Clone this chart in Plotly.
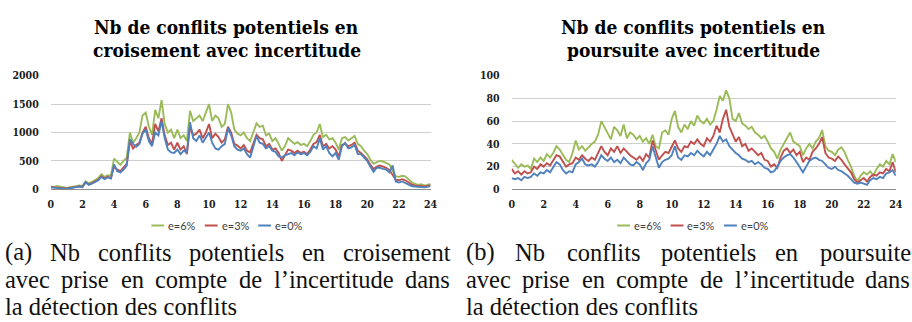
import plotly.graph_objects as go

# Sampling grid: one reading every 12 minutes over the day
hours = [round(i * 0.2, 1) for i in range(121)]

# Crossing conflicts (croisement), count per sample
cross_e6 = [
    50, 45, 60, 50, 30, 25, 40, 45, 55, 70,
    60, 140, 110, 130, 160, 200, 270, 220, 250, 240,
    540, 480, 430, 500, 560, 1000, 820, 900, 1000, 1300,
    1350, 1100, 960, 1400, 1250, 1570, 1150, 1000, 1050, 900,
    1050, 900, 950, 850, 1380, 1200, 1250, 1300, 1200, 1350,
    1500, 1200, 1300, 1250, 1100, 1150, 1500, 1350, 1050, 980,
    950, 1000, 900, 850, 1000, 1160, 1100, 1120, 950, 980,
    850, 900, 800, 680, 760, 900, 850, 800, 830, 780,
    800, 760, 850, 960, 1000, 1150, 920, 960, 880, 900,
    820, 700, 900, 920, 860, 900, 940, 800, 760, 680,
    620, 520, 450, 480, 500, 490, 470, 440, 330, 230,
    220, 240, 230, 180, 130, 100, 80, 90, 70, 80,
    95,
]
cross_e3 = [
    40, 35, 40, 35, 20, 15, 25, 30, 45, 55,
    45, 120, 90, 110, 140, 170, 230, 190, 220, 200,
    400, 350, 320, 380, 450, 850, 720, 780, 820, 1000,
    1100, 900, 800, 1150, 1020, 1250, 950, 780, 820, 700,
    820, 700, 760, 620, 1100, 950, 980, 1050, 900, 1000,
    1150, 900, 980, 920, 820, 880, 1100, 1000, 800, 770,
    720, 780, 680, 650, 800, 960, 900, 880, 760, 800,
    700, 720, 640, 500, 600, 700, 680, 640, 680, 640,
    660, 620, 700, 800, 830, 960, 760, 800, 720, 760,
    700, 580, 780, 800, 760, 780, 820, 680, 640, 580,
    530, 430, 360, 400, 420, 400, 380, 340, 260, 170,
    160, 180, 160, 120, 90, 70, 55, 65, 50, 60,
    75,
]
cross_e0 = [
    35, 30, 30, 25, 15, 10, 20, 25, 40, 50,
    40, 130, 80, 100, 130, 160, 220, 180, 210, 190,
    440, 320, 300, 350, 420, 880, 800, 750, 800, 980,
    1050, 850, 760, 1000, 950, 1200, 900, 700, 650, 640,
    700, 620, 680, 650, 1180, 900, 850, 950, 820, 900,
    1000, 820, 720, 700, 760, 800, 1080, 950, 760, 700,
    680, 720, 620, 560, 740, 940, 820, 800, 720, 760,
    680, 660, 580, 560, 600, 620, 640, 600, 650, 620,
    640, 600, 660, 760, 720, 900, 700, 760, 640, 580,
    640, 520, 760, 820, 720, 740, 780, 620, 620, 560,
    500, 400, 310, 380, 380, 360, 350, 300, 420, 140,
    120, 140, 110, 80, 60, 50, 45, 50, 35, 45,
    60,
]

# Pursuit conflicts (poursuite), count per sample
pursuit_e6 = [
    26, 22, 19, 22, 20, 21, 18, 27, 24, 28,
    25, 31, 28, 32, 38, 35, 30, 26, 24, 32,
    43, 35, 38, 34, 37, 40, 42, 48, 60, 55,
    50, 44, 55, 52, 47, 57, 45, 50, 48, 44,
    47, 42, 45, 40, 48, 38, 36, 50, 52, 48,
    62, 69, 55, 50, 57, 53, 60, 56, 65, 60,
    58, 62, 57, 60, 70, 82, 78, 87, 80, 62,
    60, 67, 58, 56, 53, 55, 50, 48, 45, 47,
    42, 36, 33, 27, 35, 40, 45, 50, 42, 40,
    38, 30, 36, 40, 36, 42, 45, 52, 38, 34,
    33, 30, 35, 37, 33, 26, 20, 12, 7, 12,
    15, 13, 16, 12, 18, 22, 20, 25, 22, 31,
    24,
]
pursuit_e3 = [
    18, 14, 16, 13, 16, 14, 15, 20, 18, 22,
    20, 23, 21, 26, 30, 29, 24, 20, 22, 23,
    28, 26, 30, 27, 25, 28, 26, 32, 38, 33,
    30, 36, 33, 38, 32, 36, 33, 30, 28, 26,
    29, 25, 31, 28, 43, 35, 26, 30, 33, 32,
    38, 43, 36, 33, 38, 37, 42, 40, 44, 40,
    38, 45, 42, 47, 56, 50, 62, 70, 55, 48,
    42, 46, 38, 40, 34, 36, 33, 30, 32, 26,
    25, 20, 22, 19, 28, 34, 36, 32, 35, 30,
    33, 24, 28, 26, 33, 36, 40, 46, 32, 28,
    27, 25, 29, 26, 22, 18, 15, 9, 6, 8,
    10, 7, 11, 13, 12, 15, 14, 18, 16, 24,
    15,
]
pursuit_e0 = [
    10, 9, 10, 8, 11, 10, 11, 14, 12, 15,
    14, 17, 15, 19, 24, 22, 17, 14, 16, 15,
    22, 24, 27, 22, 21, 22, 20, 24, 30, 27,
    25, 28, 24, 26, 23, 28, 25, 22, 21, 24,
    22, 17, 23, 26, 38, 28, 19, 24, 26, 27,
    30, 38, 28, 26, 30, 29, 32, 30, 34, 31,
    29, 33, 30, 35, 40, 47, 42, 44, 38, 35,
    32, 30, 27, 26, 24, 25, 22, 24, 22, 19,
    18, 15, 16, 20, 25, 28, 30, 31, 28, 24,
    19, 15, 20, 25, 27, 28, 26, 25, 22, 19,
    18, 20, 17, 16, 14, 12, 9, 6, 5, 6,
    5, 4, 8, 10, 9, 11, 10, 14, 15, 17,
    12,
]

series_names = ["e=6%", "e=3%", "e=0%"]
series_colors = ["#9BBB59", "#C0504D", "#4F81BD"]
x_ticks = [0, 2, 4, 6, 8, 10, 12, 14, 16, 18, 20, 22, 24]
cross_ticks = [0, 500, 1000, 1500, 2000]
pursuit_ticks = [0, 20, 40, 60, 80, 100]

chart_titles = [
    ["Nb de conflits potentiels en", "croisement avec incertitude"],
    ["Nb de conflits potentiels en", "poursuite avec incertitude"],
]
caption_first_lines = [
    ["(a)", "Nb", "conflits", "potentiels", "en", "croisement"],
    ["(b)", "Nb", "conflits", "potentiels", "en", "poursuite"],
]
caption_second_line = ["avec", "prise", "en", "compte", "de", "l\u2019incertitude", "dans"]
caption_last_line = "la détection des conflits"

W, H = 912, 322
SERIF = "Liberation Serif"
SERIF_BOLD = "DejaVu Serif Condensed"


def px(x):
    return x / W


def py(y):
    return 1 - y / H


fig = go.Figure()

for name, color, ys in zip(series_names, series_colors, [cross_e6, cross_e3, cross_e0]):
    fig.add_trace(go.Scatter(
        x=hours, y=ys, name=name, mode="lines",
        line=dict(color=color, width=1.9),
        xaxis="x", yaxis="y", showlegend=False,
    ))
for name, color, ys in zip(series_names, series_colors, [pursuit_e6, pursuit_e3, pursuit_e0]):
    fig.add_trace(go.Scatter(
        x=hours, y=ys, name=name, mode="lines",
        line=dict(color=color, width=1.9),
        xaxis="x2", yaxis="y2", showlegend=False,
    ))

tick_font = dict(family=SERIF_BOLD, size=10.5, color="#1a1a1a", weight="bold")
grid_color = "#CFCFCF"
axis_line = "#8C8C8C"

xcommon = dict(
    range=[0, 24], tickmode="array", tickvals=x_ticks,
    showgrid=False, zeroline=False, showline=True, linecolor=axis_line,
    linewidth=1, ticks="", tickfont=tick_font, ticklabelstandoff=5,
    fixedrange=True,
)
ycommon = dict(
    showline=False, zeroline=False, showgrid=True, gridcolor=grid_color,
    gridwidth=1, ticks="", tickfont=tick_font, ticklabelstandoff=11,
    fixedrange=True,
)

y_top, y_bot = 72.3, 190.5

fig.update_layout(
    width=W, height=H,
    margin=dict(l=0, r=0, t=0, b=0),
    paper_bgcolor="white", plot_bgcolor="white",
    xaxis=dict(domain=[px(48.3), px(432.3)], anchor="y", **xcommon),
    yaxis=dict(domain=[py(y_bot), py(y_top)], anchor="x", range=[0, 2000],
               tickvals=cross_ticks, **ycommon),
    xaxis2=dict(domain=[px(514.3), px(902.7)], anchor="y2", **xcommon),
    yaxis2=dict(domain=[py(y_bot), py(y_top)], anchor="x2", range=[0, 100],
                tickvals=pursuit_ticks, **ycommon),
    showlegend=False,
)

annotations = []
shapes = []

# Chart titles, two centred lines each
title_font = dict(family=SERIF_BOLD, size=19, color="black", weight="bold")
for cx, lines in zip([226, 698], chart_titles):
    for ly, text in zip([22, 46], lines):
        annotations.append(dict(
            text=text, x=px(cx), y=py(ly), xref="paper", yref="paper",
            xanchor="center", yanchor="middle", showarrow=False, font=title_font,
        ))

# Compact legend row under each chart: short coloured stroke + label
legend_font = dict(family="Lato", size=11, color="#404040")
legend_y = 228
for start in [150, 621]:
    for k, (name, color) in enumerate(zip(series_names, series_colors)):
        x0 = start + k * 54
        shapes.append(dict(
            type="line", xref="paper", yref="paper",
            x0=px(x0), x1=px(x0 + 13), y0=py(legend_y), y1=py(legend_y),
            line=dict(color=color, width=2),
        ))
        annotations.append(dict(
            text=name, x=px(x0 + 15), y=py(legend_y), xref="paper", yref="paper",
            xanchor="left", yanchor="middle", showarrow=False, font=legend_font,
        ))

# Sub-figure captions; the first two lines are spread over the column width
caption_font = dict(family=SERIF, size=24.5, color="#111111")
first_offsets = [
    [0, 46, 94, 186, 300, 342],
    [0, 50, 102, 197, 313, 358],
]
second_offsets = [0, 57, 117, 152, 237, 272, 404]
line_y = [256, 284, 312]
for base, offs, words in zip([0, 466], first_offsets, caption_first_lines):
    for off, w in zip(offs, words):
        annotations.append(dict(
            text=w, x=px(base + off), y=py(line_y[0]), xref="paper", yref="paper",
            xanchor="left", yanchor="middle", showarrow=False, font=caption_font,
        ))
    for off, w in zip(second_offsets, caption_second_line):
        annotations.append(dict(
            text=w, x=px(base + off), y=py(line_y[1]), xref="paper", yref="paper",
            xanchor="left", yanchor="middle", showarrow=False, font=caption_font,
        ))
    annotations.append(dict(
        text=caption_last_line, x=px(base), y=py(line_y[2]), xref="paper", yref="paper",
        xanchor="left", yanchor="middle", showarrow=False, font=caption_font,
    ))

fig.update_layout(annotations=annotations, shapes=shapes)
fig.write_html("out.html")
